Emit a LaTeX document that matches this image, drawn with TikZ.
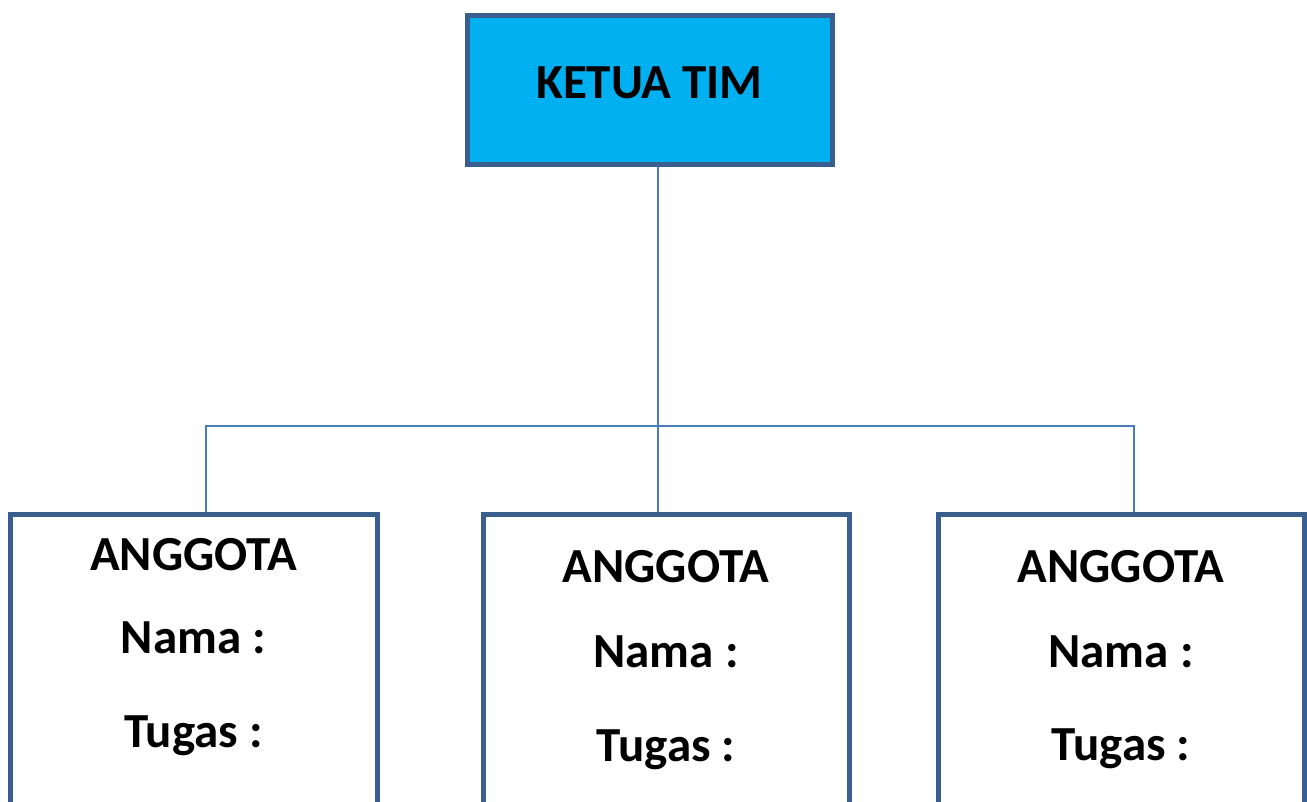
\documentclass[tikz,border=0pt]{standalone}
\usepackage{fontspec}
\setmainfont{Carlito}
\definecolor{boxborder}{HTML}{3A5F8E}
\definecolor{boxfill}{HTML}{00B0F0}
\definecolor{linkcol}{HTML}{4A7EBB}
\tikzset{
  headbox/.style={draw=boxborder, fill=boxfill, line width=5pt, minimum width=365pt, minimum height=149pt, inner sep=0pt},
  memberbox/.style={draw=boxborder, fill=white, line width=5pt, minimum height=386pt, inner sep=0pt},
  link/.style={draw=linkcol, line width=2.8pt},
  lbl/.style={anchor=base, inner sep=0pt, font=\fontsize{49}{58}\selectfont\bfseries}
}
\begin{document}
\begin{tikzpicture}[x=1pt, y=-1pt]
\useasboundingbox (0,0) rectangle (1307,801);
\clip (0,0) rectangle (1307,801);
\fill[white] (0,0) rectangle (1307,801);
% boxes
\node[headbox] (ketua) at (649.5,89.5) {};
\node[memberbox, minimum width=367pt] (m1) at (193.5,707) {};
\node[memberbox, minimum width=366pt] (m2) at (666,707) {};
\node[memberbox, minimum width=366pt] (m3) at (1121,707) {};
% texts
\node[lbl] (tk) at (649.5,98) {KETUA TIM};
\node[lbl] (a1) at (193.5,570) {ANGGOTA};
\node[lbl] (n1) at (193.5,653) {Nama :};
\node[lbl] (t1) at (193.5,747) {Tugas :};
\node[lbl] (a2) at (666,582) {ANGGOTA};
\node[lbl] (n2) at (666,667) {Nama :};
\node[lbl] (t2) at (666,761) {Tugas :};
\node[lbl] (a3) at (1121,582) {ANGGOTA};
\node[lbl] (n3) at (1121,667) {Nama :};
\node[lbl] (t3) at (1121,760) {Tugas :};
% connectors
\coordinate (jc) at (658,426);
\coordinate (jl) at (206,426);
\coordinate (jr) at (1134,426);
\draw[link] (jc |- ketua.south) -- (jc |- m2.north);
\draw[link] (jl |- m1.north) -- (jl) -- (jr) -- (jr |- m3.north);
\end{tikzpicture}
\end{document}
